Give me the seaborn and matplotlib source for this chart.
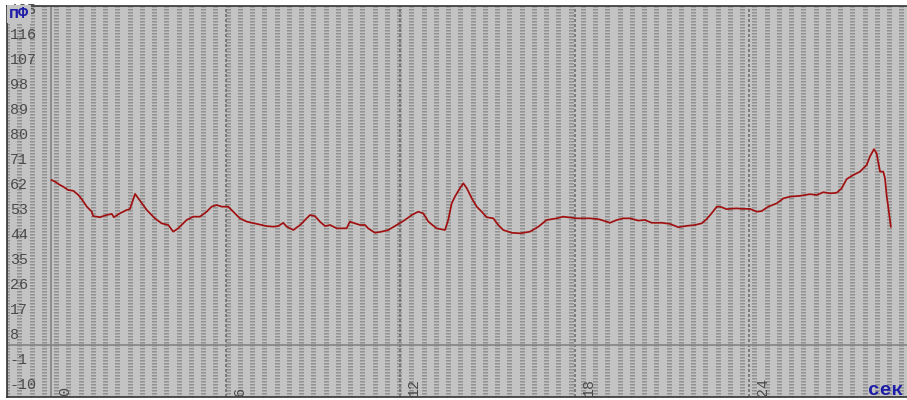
import numpy as np
import pandas as pd
import matplotlib
matplotlib.use("Agg")
import matplotlib.pyplot as plt
import seaborn as sns

# ---- data (time in seconds, capacitance in pF) ----
t_sec = [0.02, 0.14, 0.31, 0.42, 0.59, 0.77, 0.94, 1.05, 1.23, 1.40, 1.45, 1.68, 1.91, 2.09, 2.16,
         2.37, 2.60, 2.71, 2.89, 3.00, 3.12, 3.29, 3.57, 3.80, 4.03, 4.20, 4.37, 4.66, 4.89, 5.12,
         5.35, 5.52, 5.69, 5.87, 6.09, 6.26, 6.49, 6.73, 7.07, 7.41, 7.64, 7.81, 7.98, 8.10, 8.33,
         8.56, 8.79, 8.90, 9.07, 9.24, 9.42, 9.59, 9.82, 10.16, 10.27, 10.45, 10.62, 10.79, 10.90,
         11.13, 11.36, 11.59, 11.88, 12.16, 12.40, 12.62, 12.79, 12.97, 13.25, 13.54, 13.65, 13.77,
         13.88, 14.05, 14.17, 14.29, 14.46, 14.63, 14.80, 14.97, 15.20, 15.37, 15.54, 15.83, 16.12,
         16.46, 16.75, 17.03, 17.38, 17.60, 18.07, 18.52, 18.81, 18.98, 19.21, 19.44, 19.67, 19.90,
         20.18, 20.41, 20.64, 20.99, 21.27, 21.56, 21.85, 22.13, 22.36, 22.53, 22.70, 22.88, 22.99,
         23.22, 23.56, 23.74, 24.02, 24.25, 24.42, 24.65, 24.94, 25.17, 25.40, 25.74, 26.08, 26.31,
         26.54, 26.77, 27.00, 27.17, 27.34, 27.57, 27.80, 28.03, 28.14, 28.28, 28.37, 28.49, 28.60,
         28.66, 28.72, 28.77, 28.86]
cap_pf = [59.4, 58.8, 57.6, 57.0, 55.8, 55.5, 54.0, 52.6, 49.8, 48.0, 46.4, 46.0, 46.8, 47.2, 46.0,
          47.4, 48.6, 48.9, 54.4, 52.8, 51.0, 48.6, 45.6, 43.8, 43.2, 40.8, 42.0, 45.0, 46.2, 46.2,
          48.0, 49.8, 50.4, 49.8, 49.8, 48.0, 45.6, 44.4, 43.6, 42.8, 42.6, 42.8, 44.0, 42.6, 41.4,
          43.2, 45.6, 46.8, 46.4, 44.4, 42.8, 43.2, 42.0, 42.0, 44.4, 43.8, 43.2, 43.2, 42.0,
          40.4, 40.8, 41.4, 43.2, 45.0, 46.8, 48.0, 47.4, 44.4, 42.0, 41.4, 45.0, 51.0,
          53.4, 56.4, 58.2, 56.4, 52.8, 49.8, 48.0, 46.0, 45.6, 43.2, 41.4, 40.4, 40.2,
          40.8, 42.6, 45.0, 45.6, 46.2, 45.6, 45.6, 45.3, 44.8, 44.0, 45.0, 45.6, 45.6,
          44.8, 45.0, 44.0, 44.0, 43.6, 42.4, 42.9, 43.2, 43.8, 45.3, 47.4, 49.8, 49.8,
          48.9, 49.2, 49.0, 49.0, 48.0, 48.2, 49.8, 51.0, 52.8, 53.4, 53.7, 54.3, 54.0,
          55.0, 54.6, 54.8, 56.4, 59.7, 61.2, 62.4, 64.8, 67.8, 70.5, 69.0, 62.4, 62.4,
          60.0, 53.4, 49.8, 42.6]
y_ticks = [-10, -1, 8, 17, 26, 35, 44, 53, 62, 71, 80, 89, 98, 107, 116, 125]
x_ticks = [0, 6, 12, 18, 24]
y_unit = "пФ"
x_unit = "сек"

df = pd.DataFrame({"t": t_sec, "c": cap_pf})

plt.rcParams["lines.scale_dashes"] = False
W, H = 907, 400
BG = "#c3c3c3"
fig = plt.figure(figsize=(W / 100, H / 100), dpi=100)
fig.patch.set_facecolor("white")
ax = fig.add_axes([7 / W, 3 / H, (912 - 7) / W, (397 - 6) / H])
ax.set_facecolor(BG)

xpx, ypx = 29.1, 25 / 9  # pixels per unit
x0px, y0px = 51, 345
ax.set_xlim((7 - x0px) / xpx, (912 - x0px) / xpx)
ax.set_ylim(-(397 - y0px) / ypx, (y0px - 6) / ypx)

pt = 0.72  # px -> pt
# dense dotted column pattern
for xc in np.arange((68.3 - x0px) / xpx - 6 * 0.421, 30, 0.421):
    ax.axvline(xc, color="#8c8c8c", lw=5 * pt, linestyle=(0, (1.4 * pt, 1.6 * pt)),
               dash_capstyle="butt", zorder=1)
# major dashed verticals
for xt in x_ticks[1:]:
    ax.axvline(xt, color="#6c6c6c", lw=1.6 * pt, linestyle=(0, (3 * pt, 2 * pt)),
               dash_capstyle="butt", zorder=2)
# axes through origin
ax.axhline(0, color="#828282", lw=1.6 * pt, zorder=2)
ax.axvline(0, color="#828282", lw=1.6 * pt, zorder=2)

sns.lineplot(data=df, x="t", y="c", ax=ax, color="#a01010", lw=1.25, estimator=None,
             sort=False, zorder=5)

ax.set_xticks([])
ax.set_yticks([])
ax.set_xlabel("")
ax.set_ylabel("")
for s in ["top", "left", "bottom"]:
    ax.spines[s].set_color("#333333")
    ax.spines[s].set_linewidth(1.2)
ax.spines["right"].set_visible(False)

mono = ["Liberation Mono", "DejaVu Sans Mono"]
for v in y_ticks:
    ax.annotate(str(v), xy=(0, v), xycoords=ax.get_yaxis_transform(), xytext=(3, -12),
                textcoords="offset pixels", ha="left", va="center", fontsize=10.8,
                family=mono, color="#4a4a4a", zorder=6, annotation_clip=False)
for v in x_ticks:
    ax.annotate(str(v), xy=(v, 0), xycoords=ax.get_xaxis_transform(), xytext=(7, 1),
                textcoords="offset pixels", ha="left", va="bottom", rotation=90,
                fontsize=10.8, family=mono, color="#4a4a4a", zorder=6)

fig.text(9 / W, 1 - 14 / H, y_unit, ha="left", va="center", fontsize=12, fontweight="bold",
         family=mono, color="#1c1ca8", zorder=10,
         bbox=dict(boxstyle="square,pad=0.1", facecolor=BG, edgecolor="none"))
fig.text(868 / W, 5 / H, x_unit, ha="left", va="baseline", fontsize=14, fontweight="bold",
         family=mono, color="#1c1ca8")

fig.savefig("out.png", dpi=100)
